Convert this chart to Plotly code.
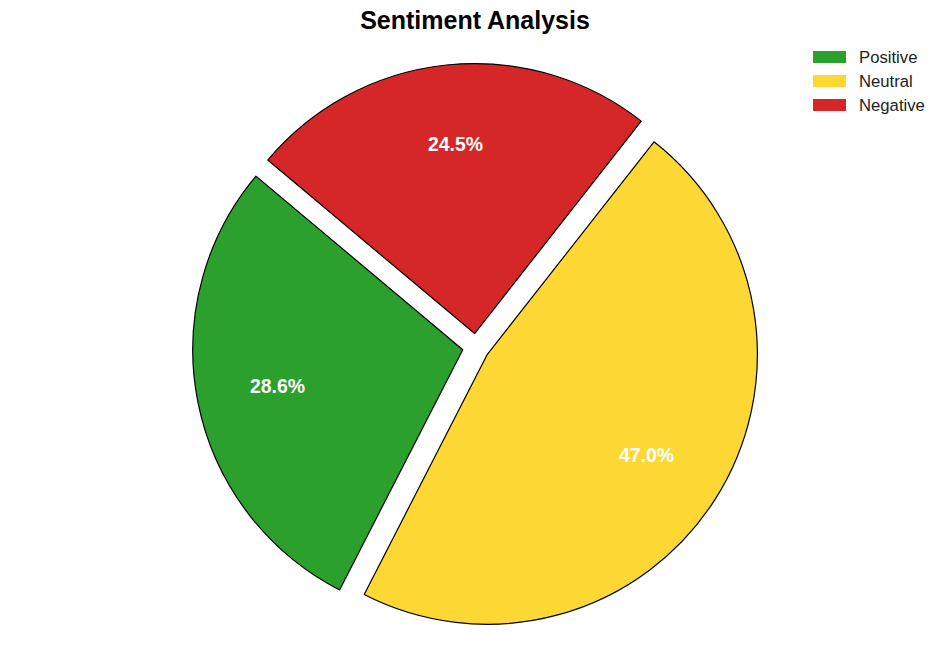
import math
import plotly.graph_objects as go

labels = ["Positive", "Neutral", "Negative"]
values = [28.6, 47.0, 24.5]
colors = ["#2CA02C", "#FDD835", "#D62728"]
pulls = [0.05, 0.05, 0.05]

W, H = 950, 662
cx, cy, R = 476, 347, 270          # pie centre / radius in pixels
start_deg = 140                     # start angle (CCW from 3 o'clock)
pct_dist = 0.7
maxpull = max(pulls)
half = R * (1 + maxpull)
total = sum(values)

# plotly (counterclockwise) anchors the rotation at the clockwise edge of the first slice
rot = (90 - start_deg) - 360 * values[0] / total

fig = go.Figure()
fig.add_trace(go.Pie(
    labels=labels, values=values, sort=False,
    direction="counterclockwise", rotation=rot,
    pull=pulls,
    marker=dict(colors=colors, line=dict(color="black", width=1.2)),
    textinfo="none", hoverinfo="label+percent",
    showlegend=False,
    domain=dict(x=[(cx - half) / W, (cx + half) / W],
                y=[(H - cy - half) / H, (H - cy + half) / H]),
))

annotations = []
cum = 0
for lab, v, p in zip(labels, values, pulls):
    mid = math.radians(start_deg + 360 * (cum + v / 2) / total)
    cum += v
    r = R * (p + pct_dist)
    px = cx + math.cos(mid) * r
    py = cy - math.sin(mid) * r
    annotations.append(dict(
        x=px / W, y=1 - py / H, xref="paper", yref="paper",
        text="<b>%.1f%%</b>" % (100 * v / total), showarrow=False,
        font=dict(family="Liberation Sans, Arial", size=19.4, color="white"),
        xanchor="center", yanchor="middle", yshift=1.5))

# legend
shapes = []
leg_x0, leg_x1, leg_y0, leg_dy, leg_h = 813, 846, 57, 24, 12
for i, (lab, col) in enumerate(zip(labels, colors)):
    yc = leg_y0 + i * leg_dy
    shapes.append(dict(type="rect", xref="paper", yref="paper",
                       x0=leg_x0 / W, x1=leg_x1 / W,
                       y0=1 - (yc + leg_h / 2) / H, y1=1 - (yc - leg_h / 2) / H,
                       fillcolor=col, line=dict(width=0)))
    annotations.append(dict(
        x=857 / W, y=1 - yc / H, xref="paper", yref="paper", text=lab,
        showarrow=False, xanchor="left", yanchor="middle",
        font=dict(family="Liberation Sans, Arial", size=16.7, color="#222222")))

fig.update_layout(
    width=W, height=H,
    margin=dict(l=0, r=0, t=0, b=0),
    paper_bgcolor="white", plot_bgcolor="white",
    title=dict(text="<b>Sentiment Analysis</b>", x=0.5, xanchor="center",
               y=1 - 20 / H, yanchor="middle", yref="container",
               font=dict(family="Liberation Sans, Arial", size=25, color="black")),
    annotations=annotations, shapes=shapes,
)

fig.write_html("out.html")
